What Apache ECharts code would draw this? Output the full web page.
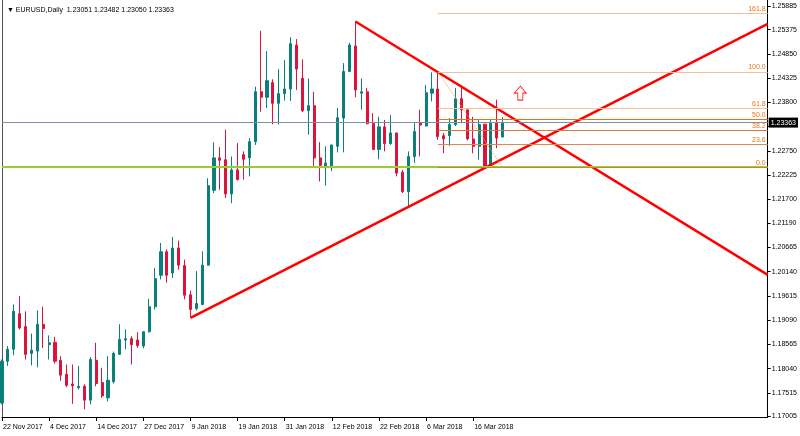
<!DOCTYPE html>
<html><head><meta charset="utf-8">
<script src="https://cdn.jsdelivr.net/npm/echarts@6/dist/echarts.min.js"></script>
<style>html,body{margin:0;padding:0;background:#fff}#c{width:800px;height:436px}</style>
</head><body><div id="c"></div>
<script>
const dates = ["22 Nov 2017","23 Nov 2017","24 Nov 2017","27 Nov 2017","28 Nov 2017","29 Nov 2017","30 Nov 2017","1 Dec 2017","4 Dec 2017","5 Dec 2017","6 Dec 2017","7 Dec 2017","8 Dec 2017","11 Dec 2017","12 Dec 2017","13 Dec 2017","14 Dec 2017","15 Dec 2017","18 Dec 2017","19 Dec 2017","20 Dec 2017","21 Dec 2017","22 Dec 2017","26 Dec 2017","27 Dec 2017","28 Dec 2017","29 Dec 2017","2 Jan 2018","3 Jan 2018","4 Jan 2018","5 Jan 2018","8 Jan 2018","9 Jan 2018","10 Jan 2018","11 Jan 2018","12 Jan 2018","15 Jan 2018","16 Jan 2018","17 Jan 2018","18 Jan 2018","19 Jan 2018","22 Jan 2018","23 Jan 2018","24 Jan 2018","25 Jan 2018","26 Jan 2018","29 Jan 2018","30 Jan 2018","31 Jan 2018","1 Feb 2018","2 Feb 2018","5 Feb 2018","6 Feb 2018","7 Feb 2018","8 Feb 2018","9 Feb 2018","12 Feb 2018","13 Feb 2018","14 Feb 2018","15 Feb 2018","16 Feb 2018","19 Feb 2018","20 Feb 2018","21 Feb 2018","22 Feb 2018","23 Feb 2018","26 Feb 2018","27 Feb 2018","28 Feb 2018","1 Mar 2018","2 Mar 2018","5 Mar 2018","6 Mar 2018","7 Mar 2018","8 Mar 2018","9 Mar 2018","12 Mar 2018","13 Mar 2018","14 Mar 2018","15 Mar 2018","16 Mar 2018","19 Mar 2018","20 Mar 2018","21 Mar 2018","22 Mar 2018","23 Mar 2018"];
const futureSlots = 45;
const xTickLabels = ["22 Nov 2017","4 Dec 2017","14 Dec 2017","27 Dec 2017","9 Jan 2018","19 Jan 2018","31 Jan 2018","12 Feb 2018","22 Feb 2018","6 Mar 2018","16 Mar 2018"];
const yTickLabels = ["1.17005","1.17515","1.18040","1.18565","1.19090","1.19615","1.20140","1.20665","1.21190","1.21700","1.22225","1.22750","1.23800","1.24325","1.24850","1.25375","1.25885"];

const opens  = [1.1730,1.1820,1.1846,1.1923,1.1895,1.1837,1.1842,1.1900,1.1856,1.1861,1.1822,1.1792,1.1771,1.1763,1.1766,1.1736,1.1822,1.1774,1.1741,1.1776,1.1835,1.1866,1.1869,1.1866,1.1853,1.1884,1.1938,1.2006,1.2057,1.2011,1.2065,1.2027,1.1964,1.1934,1.1943,1.2028,1.2190,1.2260,1.2256,1.2182,1.2234,1.2267,1.2260,1.2295,1.2403,1.2391,1.2423,1.2378,1.2399,1.2409,1.2504,1.2432,1.2362,1.2373,1.2260,1.2241,1.2241,1.2285,1.2346,1.2447,1.2502,1.2400,1.2403,1.2334,1.2278,1.2327,1.2291,1.2314,1.2229,1.2187,1.2263,1.2336,1.2329,1.2400,1.2409,1.2308,1.2308,1.2332,1.2388,1.2364,1.2301,1.2285,1.2333,1.2241,1.2335,1.23051];
const highs  = [1.1824,1.1853,1.1943,1.1961,1.1928,1.1880,1.1930,1.1938,1.1876,1.1873,1.1831,1.1813,1.1813,1.1810,1.1770,1.1829,1.1860,1.1806,1.1831,1.1841,1.1900,1.1889,1.1874,1.1883,1.1884,1.1955,1.2022,1.2076,1.2062,1.2089,1.2081,1.2040,1.1973,1.2015,1.2058,1.2216,1.2294,1.2283,1.2321,1.2263,1.2292,1.2274,1.2303,1.2414,1.2535,1.2491,1.2430,1.2452,1.2472,1.2521,1.2517,1.2473,1.2432,1.2403,1.2294,1.2285,1.2288,1.2368,1.2465,1.2509,1.2555,1.2432,1.2411,1.2357,1.2349,1.2342,1.2353,1.2314,1.2234,1.2274,1.2335,1.2364,1.2418,1.2445,1.2445,1.2314,1.2346,1.2411,1.2411,1.2364,1.2349,1.2342,1.2333,1.2342,1.2386,1.23482];
const lows   = [1.1727,1.1810,1.1833,1.1889,1.1824,1.1811,1.1807,1.1849,1.1824,1.1815,1.1778,1.1764,1.1728,1.1759,1.1716,1.1727,1.1766,1.1741,1.1733,1.1772,1.1835,1.1846,1.1813,1.1849,1.1848,1.1882,1.1932,1.1997,1.1990,1.2000,1.2018,1.1954,1.1915,1.1930,1.1941,1.2027,1.2184,1.2191,1.2173,1.2162,1.2211,1.2213,1.2220,1.2288,1.2360,1.2368,1.2333,1.2332,1.2384,1.2383,1.2407,1.2359,1.2310,1.2241,1.2209,1.2200,1.2231,1.2272,1.2272,1.2446,1.2391,1.2364,1.2332,1.2278,1.2257,1.2274,1.2288,1.2220,1.2184,1.2152,1.2249,1.2263,1.2328,1.2382,1.2299,1.2270,1.2286,1.2329,1.2335,1.2298,1.2270,1.2256,1.2239,1.2238,1.2281,1.23050];
const closes = [1.1820,1.1846,1.1928,1.1892,1.1835,1.1844,1.1900,1.1891,1.1860,1.1820,1.1790,1.1768,1.1767,1.1766,1.1736,1.1824,1.1772,1.1745,1.1779,1.1837,1.1867,1.1869,1.1856,1.1854,1.1884,1.1938,1.1999,1.2057,1.2006,1.2065,1.2028,1.1963,1.1932,1.1945,1.2028,1.2200,1.2260,1.2255,1.2182,1.2234,1.2213,1.2257,1.2295,1.2403,1.2391,1.2427,1.2378,1.2399,1.2409,1.2507,1.2452,1.2362,1.2373,1.2260,1.2244,1.2249,1.2288,1.2347,1.2447,1.2504,1.2407,1.2403,1.2334,1.2278,1.2327,1.2291,1.2314,1.2227,1.2187,1.2263,1.2317,1.2331,1.2401,1.2409,1.2306,1.2301,1.2332,1.2388,1.2364,1.2301,1.2285,1.2332,1.2241,1.2335,1.2303,1.23363];

const trendDown = [[60, 1.2555], [130, 1.2007]];
const trendUp   = [[32, 1.1914], [130, 1.2550]];
const fibDiagonal = [[74, 1.2446], [85, 1.2240]];
const fibNames  = ["161.8","100.0","61.8","50.0","38.2","23.6","0.0"];
const fibValues = [1.2573, 1.2446, 1.2367, 1.2343, 1.2319, 1.2289, 1.2240];
const fibStart = 74, fibEnd = 130;
const currentPrice = 1.23363;
const supportLevel = 1.2241;
const arrowPoint = [88, 1.2400];

const fibColors = ["#f7bf94","#f7bf94","#f7bf94","#e8731a","#d9773a","#d88a50","#c08a30"];
const FONT = "Liberation Sans";
const categories = dates.concat(Array.from({length: futureSlots}, (_, i) => "+" + (i + 1)));
const lastIdx = categories.length - 1;
const candleData = opens.map((o, i) => [o, closes[i], lows[i], highs[i]]);
const tickIdx = new Set(xTickLabels.map(l => dates.indexOf(l)));
const yTickVals = yTickLabels.map(Number).concat([1.23275]);
const yLabelVals = yTickLabels.map(Number);

const hLine = (v, style, label) => [
  {coord: [0, v], lineStyle: style, label: label || {show: false}},
  {coord: [lastIdx, v]}
];

const chart = echarts.init(document.getElementById('c'), null, {renderer: 'canvas'});
chart.setOption({
  animation: false,
  title: {text: '\u25BC EURUSD,Daily  1.23051 1.23482 1.23050 1.23363', left: 2, top: 2,
    textStyle: {fontSize: 7, fontWeight: 'normal', fontFamily: FONT, color: '#000'}},
  grid: {left: 1.5, right: 32, top: 0, bottom: 19},
  xAxis: [{
    type: 'category', data: categories, boundaryGap: false,
    axisLine: {lineStyle: {color: '#000', width: 1}},
    axisTick: {show: true, length: 4, interval: (i) => tickIdx.has(i), lineStyle: {color: '#000'}},
    axisLabel: {interval: (i) => tickIdx.has(i), align: 'left', fontSize: 7, fontFamily: FONT, color: '#000', margin: 7, padding: [0,0,0,1]},
    splitLine: {show: false}
  }],
  yAxis: [{
    type: 'value', position: 'right', min: 1.16995, max: 1.26015, scale: true,
    axisLine: {show: true, lineStyle: {color: '#000'}},
    axisTick: {show: true, length: 3, customValues: yTickVals, lineStyle: {color: '#000'}},
    axisLabel: {customValues: yLabelVals, formatter: (v) => v.toFixed(5), fontSize: 7, fontFamily: FONT, color: '#000', margin: 4},
    splitLine: {show: false}
  }, {
    type: 'value', position: 'left', min: 1.16995, max: 1.26015,
    axisLine: {show: true, lineStyle: {color: '#555'}}, axisTick: {show: false}, axisLabel: {show: false}, splitLine: {show: false}
  }],
  series: [
    {
      type: 'line', data: [], z: 1, silent: true,
      markLine: {
        silent: true, symbol: ['none', 'none'],
        data: [
          hLine(supportLevel, {color: '#9acd32', width: 2, type: 'solid'}),
          hLine(currentPrice, {color: '#7d8fa3', width: 1, type: 'solid'},
            {show: true, position: 'end', formatter: currentPrice.toFixed(5), color: '#fff', backgroundColor: '#000',
              padding: [2, 2, 1, 2], fontSize: 7, fontFamily: FONT, distance: 1})
        ].concat(fibValues.map((v, i) => [
          {coord: [fibStart, v], lineStyle: {color: fibColors[i], width: 1, type: 'solid'},
            label: {show: true, position: 'insideEndTop', formatter: fibNames[i], color: '#e8731a', fontSize: 7, fontFamily: FONT, distance: [2, 1]}},
          {coord: [fibEnd, v]}
        ]))
      }
    },
    {
      type: 'candlestick', data: candleData, z: 2, barWidth: 2.6,
      itemStyle: {color: '#0b7f7b', color0: '#dc143c', borderColor: '#0b7f7b', borderColor0: '#dc143c', borderWidth: 1}
    },
    {type: 'line', data: trendDown, z: 3, symbol: 'none', lineStyle: {color: '#ff0000', width: 2.5}},
    {type: 'line', data: trendUp, z: 3, symbol: 'none', lineStyle: {color: '#ff0000', width: 2.5}},
    {type: 'line', data: fibDiagonal, z: 3, symbol: 'none', lineStyle: {color: '#f5a030', width: 1, type: 'dotted'}},
    {type: 'scatter', data: [arrowPoint], z: 4, symbol: 'path://M6,0L12,6.5L8.5,6.5L8.5,13L3.5,13L3.5,6.5L0,6.5Z', symbolSize: [12, 14],
      itemStyle: {color: '#fff', borderColor: '#ff0000', borderWidth: 1}}
  ]
});
</script></body></html>
